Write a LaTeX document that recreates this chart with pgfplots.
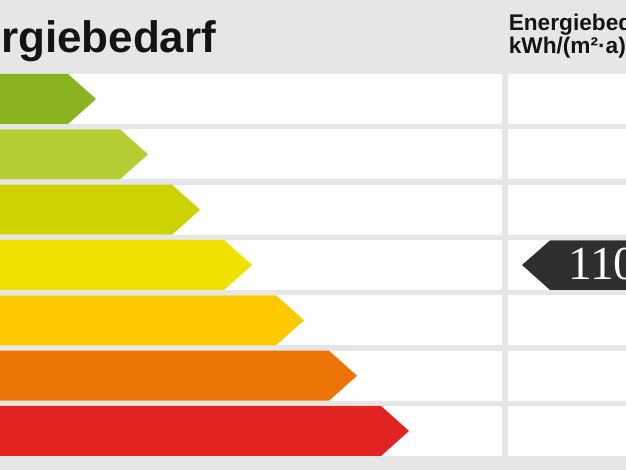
\documentclass[border=0pt]{standalone}
\usepackage{fontspec}
\setmainfont{Liberation Sans}
\newfontfamily\numfont{Liberation Serif}
\usepackage{pgfplots}
\pgfplotsset{compat=1.18}
\definecolor{bg}{HTML}{E6E6E6}
\definecolor{cA}{HTML}{89B320}
\definecolor{cB}{HTML}{B5CC35}
\definecolor{cC}{HTML}{CCD300}
\definecolor{cD}{HTML}{F0E100}
\definecolor{cE}{HTML}{FDCA00}
\definecolor{cF}{HTML}{EB7405}
\definecolor{cG}{HTML}{E32322}
\definecolor{arrowc}{HTML}{2F2F2F}
\definecolor{txt}{HTML}{141414}
\begin{document}
\begin{tikzpicture}
\useasboundingbox (0,0) rectangle (469.5pt,352.5pt);
\clip (0,0) rectangle (469.5pt,352.5pt);
\begin{axis}[at={(0,0)}, anchor=south west, scale only axis,
  width=469.5pt, height=352.5pt,
  xmin=0, xmax=626, ymin=0, ymax=470, y dir=reverse,
  hide axis, clip=false]
% background
\addplot[fill=bg, draw=none] coordinates {(-50,-50) (700,-50) (700,520) (-50,520)};
% white rows, left part
\addplot[fill=white, draw=none] coordinates {(-20,74) (502,74) (502,124) (-20,124)};
\addplot[fill=white, draw=none] coordinates {(-20,129.3) (502,129.3) (502,179.3) (-20,179.3)};
\addplot[fill=white, draw=none] coordinates {(-20,184.7) (502,184.7) (502,234.7) (-20,234.7)};
\addplot[fill=white, draw=none] coordinates {(-20,240) (502,240) (502,290) (-20,290)};
\addplot[fill=white, draw=none] coordinates {(-20,295.3) (502,295.3) (502,345.3) (-20,345.3)};
\addplot[fill=white, draw=none] coordinates {(-20,350.7) (502,350.7) (502,400.7) (-20,400.7)};
\addplot[fill=white, draw=none] coordinates {(-20,406) (502,406) (502,456) (-20,456)};
% white rows, right part
\addplot[fill=white, draw=none] coordinates {(508,74) (660,74) (660,124) (508,124)};
\addplot[fill=white, draw=none] coordinates {(508,129.3) (660,129.3) (660,179.3) (508,179.3)};
\addplot[fill=white, draw=none] coordinates {(508,184.7) (660,184.7) (660,234.7) (508,234.7)};
\addplot[fill=white, draw=none] coordinates {(508,240) (660,240) (660,290) (508,290)};
\addplot[fill=white, draw=none] coordinates {(508,295.3) (660,295.3) (660,345.3) (508,345.3)};
\addplot[fill=white, draw=none] coordinates {(508,350.7) (660,350.7) (660,400.7) (508,400.7)};
\addplot[fill=white, draw=none] coordinates {(508,406) (660,406) (660,456) (508,456)};
% class arrows
\addplot[fill=cA, draw=none] coordinates {(-20,74) (68,74) (96,99) (68,124) (-20,124)};
\addplot[fill=cB, draw=none] coordinates {(-20,129.3) (120,129.3) (148,154.3) (120,179.3) (-20,179.3)};
\addplot[fill=cC, draw=none] coordinates {(-20,184.7) (172,184.7) (200,209.7) (172,234.7) (-20,234.7)};
\addplot[fill=cD, draw=none] coordinates {(-20,240) (224,240) (252,265) (224,290) (-20,290)};
\addplot[fill=cE, draw=none] coordinates {(-20,295.3) (276,295.3) (304,320.3) (276,345.3) (-20,345.3)};
\addplot[fill=cF, draw=none] coordinates {(-20,350.7) (329,350.7) (357,375.7) (329,400.7) (-20,400.7)};
\addplot[fill=cG, draw=none] coordinates {(-20,406) (381,406) (409,431) (381,456) (-20,456)};
% value pointer
\addplot[fill=arrowc, draw=none] coordinates {(522,265) (550,240.5) (660,240.5) (660,290) (550,290)};
% texts
\node[anchor=base east, inner sep=0pt, font=\fontsize{33}{36}\selectfont\bfseries, text=txt] at (axis cs:216.5,53) {Energiebedarf};
\node[anchor=base west, inner sep=0pt, font=\fontsize{17}{19}\selectfont\bfseries, text=txt] at (axis cs:508.5,31) {Energiebedarf};
\node[anchor=base west, inner sep=0pt, font=\fontsize{17}{19}\selectfont\bfseries, text=txt] at (axis cs:508.5,54) {kWh/(m²·a)};
\node[anchor=base west, inner sep=0pt, font=\numfont\fontsize{35.5}{40}\selectfont, text=white] at (axis cs:568,280) {110};
\end{axis}
\end{tikzpicture}
\end{document}
